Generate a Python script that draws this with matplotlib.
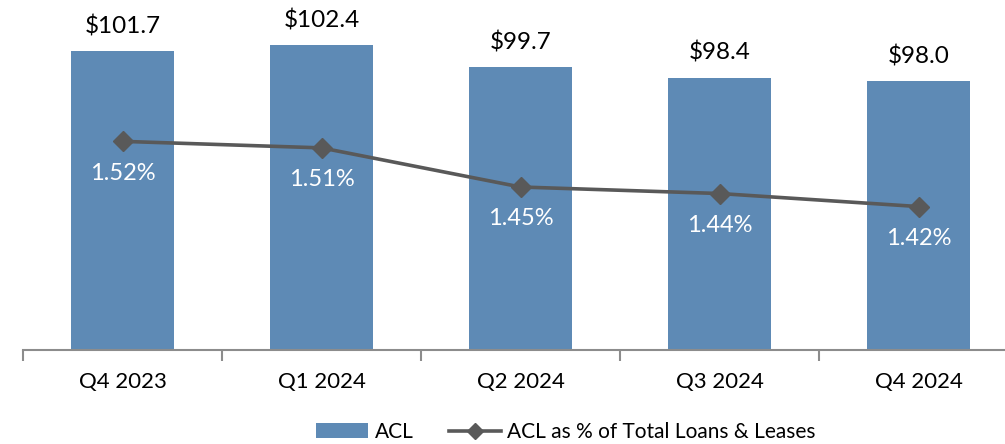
import matplotlib
matplotlib.use('Agg')
import matplotlib.pyplot as plt
import numpy as np

plt.rcParams['font.family'] = ['Lato', 'DejaVu Sans']

# data
quarters = ['Q4 2023', 'Q1 2024', 'Q2 2024', 'Q3 2024', 'Q4 2024']
acl = [101.7, 102.4, 99.7, 98.4, 98.0]
acl_pct = [1.52, 1.51, 1.45, 1.44, 1.42]

bar_color = '#5E8AB5'
line_color = '#595959'

fig = plt.figure(figsize=(10.05, 4.44), dpi=100)
ax = fig.add_axes([23 / 1005, 94 / 444, 995 / 1005, 326 / 444])
x = np.arange(len(quarters))

ax.bar(x, acl, width=0.52, color=bar_color, label='ACL', zorder=2)
ax.set_ylim(65, 105)
ax.set_xlim(-0.5, len(quarters) - 0.5)

for xi, v in zip(x, acl):
    ax.annotate(f'${v:.1f}', (xi, v), xytext=(0, 10), textcoords='offset points',
                ha='center', va='bottom', fontsize=17.5, color='black')

ax2 = ax.twinx()
ax2.plot(x, acl_pct, color=line_color, lw=2.6, marker='D', markersize=10,
         label='ACL as % of Total Loans & Leases', zorder=3)
ax2.set_ylim(1.20, 1.70)
for xi, v in zip(x, acl_pct):
    ax2.annotate(f'{v:.2f}%', (xi, v), xytext=(0, -23), textcoords='offset points',
                 ha='center', va='center', fontsize=17, color='white')

# axes styling
for a in (ax, ax2):
    for s in ('top', 'right', 'left'):
        a.spines[s].set_visible(False)
    a.set_yticks([])
ax2.spines['bottom'].set_visible(False)
ax.spines['bottom'].set_color('#8C8C8C')
ax.spines['bottom'].set_linewidth(1.5)
ax.set_xticks(x)
ax.set_xticklabels(quarters, fontsize=16)
ax.tick_params(axis='x', length=0, pad=16)
ax.set_xticks(np.arange(len(quarters) + 1) - 0.5, minor=True)
ax.tick_params(axis='x', which='minor', length=8, width=1.5, color='#8C8C8C')

h1, l1 = ax.get_legend_handles_labels()
h2, l2 = ax2.get_legend_handles_labels()
fig.legend(h1 + h2, l1 + l2, loc='center', bbox_to_anchor=(566 / 1005, 1 - 432 / 444),
           ncol=2, frameon=False, fontsize=15, handlelength=2.5, columnspacing=1.7,
           handletextpad=0.3, markerscale=0.8, borderpad=0)

fig.savefig('out.png', dpi=100)
